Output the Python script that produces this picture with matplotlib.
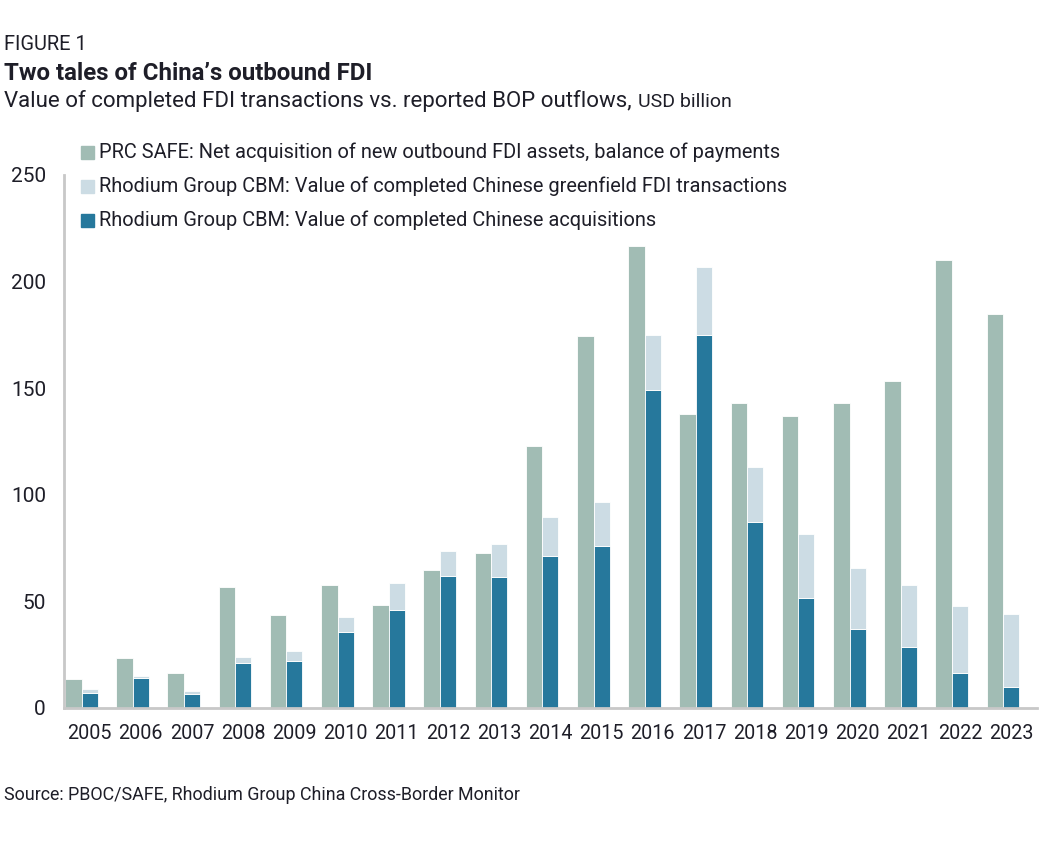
import matplotlib
matplotlib.use("Agg")
import matplotlib.pyplot as plt
from matplotlib.patches import Rectangle
import numpy as np

plt.rcParams['font.family'] = ['Roboto', 'DejaVu Sans']

years = [str(y) for y in range(2005, 2024)]
safe_bop = [13.5, 23.5, 16.5, 56.5, 43.5, 57.5, 48.0, 64.5, 72.5, 123.0, 174.5,
            216.5, 138.0, 142.8, 136.8, 142.8, 153.5, 210.0, 185.0]
acquisitions = [7.0, 13.8, 6.2, 20.8, 22.0, 35.3, 46.0, 62.0, 61.3, 71.0, 75.8,
                149.0, 175.0, 87.0, 51.3, 36.8, 28.5, 16.4, 9.6]
greenfield = [1.6, 0.9, 1.8, 3.2, 4.8, 7.5, 12.6, 11.6, 15.7, 18.5, 20.9,
              26.0, 32.0, 25.8, 30.1, 28.9, 28.9, 31.2, 34.2]
yticks = [0, 50, 100, 150, 200, 250]

labels = ["PRC SAFE: Net acquisition of new outbound FDI assets, balance of payments",
          "Rhodium Group CBM: Value of completed Chinese greenfield FDI transactions",
          "Rhodium Group CBM: Value of completed Chinese acquisitions"]
colors = ["#A1BCB4", "#CCDCE4", "#26789C"]
TXT = "#1E1E28"

W, H = 1044, 843
fig = plt.figure(figsize=(W / 100, H / 100), dpi=100)

def fx(px):
    return px / W

def fy(py):
    return 1 - py / H

ax_left, ax_right, ax_top, ax_bot = 64, 1036.8, 175, 707.7
ax = fig.add_axes([fx(ax_left), fy(ax_bot), fx(ax_right - ax_left), (ax_bot - ax_top) / H])

x = np.arange(len(years))
ax.bar(x - 0.48, safe_bop, width=0.322, align='edge', color=colors[0],
       edgecolor='white', linewidth=0.6, zorder=2)
ax.bar(x - 0.158, acquisitions, width=0.315, align='edge', color=colors[2],
       edgecolor='white', linewidth=0.6, zorder=2)
ax.bar(x - 0.158, greenfield, width=0.315, align='edge', bottom=acquisitions,
       color=colors[1], edgecolor='white', linewidth=0.6, zorder=2)

ax.set_xlim(-0.5, len(years) - 0.5)
ax.set_ylim(0, 250)
ax.set_xticks(x)
ax.set_xticklabels(years)
ax.set_yticks(yticks)
ax.set_yticklabels([str(v) for v in yticks])
ax.tick_params(axis='both', length=0, colors=TXT)
ax.tick_params(axis='x', labelsize=14.2, pad=12)
ax.tick_params(axis='y', labelsize=15, pad=13)
for s in ['top', 'right']:
    ax.spines[s].set_visible(False)
for s in ['left', 'bottom']:
    ax.spines[s].set_color('#C8C8C8')
    ax.spines[s].set_linewidth(2.0)
ax.set_facecolor('none')

# Legend (manual)
rows_y = [152, 186, 220]
for lab, col, ry in zip(labels, colors, rows_y):
    fig.patches.append(Rectangle((fx(81), fy(ry + 6.5)), fx(13), 13 / H,
                                 transform=fig.transFigure, color=col, zorder=5))
    fig.text(fx(99), fy(ry), lab, fontsize=14.4, color=TXT, va='center', ha='left')

# Titles
fig.text(fx(4), fy(45), "FIGURE 1", fontsize=14.4, color=TXT, va='center', ha='left')
fig.text(fx(4), fy(73), "Two tales of China\u2019s outbound FDI", fontsize=17.3,
         fontweight='bold', color=TXT, va='center', ha='left')
t = fig.text(fx(4), fy(101), "Value of completed FDI transactions vs. reported BOP outflows,",
             fontsize=16, color=TXT, va='center', ha='left')
fig.canvas.draw()
bb = t.get_window_extent()
fig.text((bb.x1 + 6) / W, fy(102), "USD billion", fontsize=14, color=TXT,
         va='center', ha='left')

fig.text(fx(4), fy(795), "Source: PBOC/SAFE, Rhodium Group China Cross-Border Monitor",
         fontsize=12.9, color=TXT, va='center', ha='left')

fig.savefig("out.png", dpi=100)
